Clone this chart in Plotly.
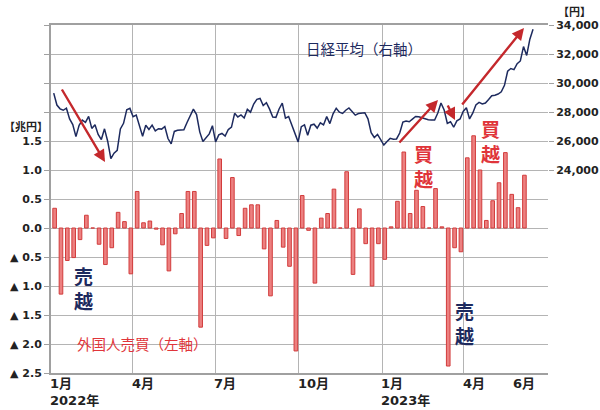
import plotly.graph_objects as go
import pandas as pd

# weekly net buying by foreign investors, trillion yen (left axis)
FOREIGN_START = "2022-01-05"
FOREIGN_NET = [
    0.34, -1.14, -0.56, -0.51, -0.20, 0.22, 0.00, -0.28, -0.63, -0.34,
    0.27, 0.11, -0.79, 0.63, 0.09, 0.12, -0.02, -0.29, -0.74, -0.10,
    0.25, 0.63, 0.63, -1.71, -0.30, -0.17, 1.19, -0.18, 0.87, -0.13,
    0.34, 0.40, 0.40, -0.36, -1.17, 0.13, -0.33, -0.66, -2.12, 0.56,
    -0.04, -0.95, 0.17, 0.25, 0.67, 0.00, 0.97, -0.80, 0.33, -0.27,
    -1.00, -0.27, -0.54, 0.02, 0.46, 1.31, 0.25, 0.65, 0.37, 0.00,
    0.68, 0.02, -2.38, -0.34, -0.41, 1.21, 1.59, 1.00, 0.13, 0.47,
    0.78, 1.30, 0.58, 0.35, 0.91,
]

NIKKEI_START = "2022-01-04"
NIKKEI = [
    29300, 28480, 28220, 28120, 28260, 27520, 27130, 26300, 27080, 27440,
    27280, 27700, 26870, 27120, 26450, 26100, 26840, 25985, 24790, 25160,
    25350, 26830, 27220, 28150, 28250, 27670, 27790, 26990, 26330, 27090,
    26800, 27100, 26700, 26850, 26820, 27000, 26170, 25800, 26660, 26740,
    26750, 26780, 27280, 27760, 28200, 27820, 26630, 25960, 26250, 26490,
    27050, 25940, 26420, 26520, 26340, 26790, 26960, 27910, 27660, 27800,
    27590, 28180, 27990, 28550, 28870, 28930, 28450, 28640, 28200, 27650,
    27630, 28210, 28610, 27570, 27690, 27150, 26570, 25940, 26990, 27120,
    26400, 27090, 27160, 26890, 27250, 27110, 27680, 27200, 27870, 28260,
    27990, 27900, 28120, 28280, 28030, 27780, 27890, 27900, 27950, 27530,
    26570, 26240, 26450, 26090, 25720, 25970, 26180, 26120, 26140, 26550,
    27300, 27380, 27330, 27510, 27690, 27670, 27600, 27510, 27470, 27450,
    27450, 27930, 28620, 28140, 27220, 27330, 26950, 27390, 27520, 28040,
    28290, 27520, 27920, 28490, 28660, 28560, 28620, 28860, 29120, 29160,
    29240, 29390, 29840, 30810, 31000, 30920, 31330, 31520, 32510, 31900,
    33020, 33710,
]

GRID_MONTHS = ["2022-01-01", "2022-04-01", "2022-07-01", "2022-10-01", "2023-01-01", "2023-04-01"]
MONTH_LABELS = [
    ("2022-01-01", "1月<br>2022年"),
    ("2022-04-01", "4月"),
    ("2022-07-01", "7月"),
    ("2022-10-01", "10月"),
    ("2023-01-01", "1月<br>2023年"),
    ("2023-04-01", "4月"),
    ("2023-05-26", "6月"),
]

LEFT_TICKS = [-2.5, -2.0, -1.5, -1.0, -0.5, 0.0, 0.5, 1.0, 1.5, 2.0, 2.5, 3.0, 3.5]
LEFT_TEXT = ["▲ 2.5", "▲ 2.0", "▲ 1.5", "▲ 1.0", "▲ 0.5", "0.0", "0.5", "1.0", "1.5", "", "", "", ""]
RIGHT_TICKS = [24000, 26000, 28000, 30000, 32000, 34000]

W, H = 600, 410
L, R, T, B = 51, 52, 25, 37
NAVY = "#1d2a5e"
RED = "#e0353a"
ARROW = "#c4282c"
JP = "Noto Sans CJK JP"
TICKFONT = dict(family="DejaVu Sans", size=11, weight="bold", color="#222222")


def px(x, y):
    """pixel position in the 600x410 canvas -> paper coords"""
    return (x - L) / (W - L - R), (H - B - y) / (H - T - B)


def label(x, y, text, **font):
    cx, cy = px(x, y)
    fig.add_annotation(
        x=cx, y=cy, xref="paper", yref="paper", text=text, showarrow=False,
        xanchor="center", yanchor="middle", font=dict(family=JP, **font),
    )


bar_dates = pd.date_range(FOREIGN_START, periods=len(FOREIGN_NET), freq="7D")
line_dates = pd.date_range(NIKKEI_START, periods=len(NIKKEI), freq="84h")

fig = go.Figure()
fig.add_trace(
    go.Bar(
        x=bar_dates,
        y=FOREIGN_NET,
        width=4 * 86400000,
        marker=dict(color="#ec8080", line=dict(color="#d23c3c", width=1)),
        yaxis="y",
        name="外国人売買",
    )
)
fig.add_trace(
    go.Scatter(
        x=line_dates,
        y=NIKKEI,
        mode="lines",
        line=dict(color=NAVY, width=1.5),
        yaxis="y2",
        name="日経平均",
    )
)

fig.update_layout(
    width=W,
    height=H,
    margin=dict(l=L, r=R, t=T, b=B, autoexpand=False),
    paper_bgcolor="white",
    plot_bgcolor="white",
    showlegend=False,
    font=dict(family="DejaVu Sans, " + JP, color="#222222"),
    xaxis=dict(
        range=["2022-01-01", "2023-07-03"],
        tickvals=GRID_MONTHS,
        showticklabels=False,
        showgrid=True,
        gridcolor="#b4b4b4",
        gridwidth=1,
        showline=True,
        linecolor="#a0a0a0",
        linewidth=2,
        mirror=True,
        zeroline=False,
        automargin=False,
    ),
    yaxis=dict(
        range=[-2.5, 3.5],
        tickvals=LEFT_TICKS,
        ticktext=LEFT_TEXT,
        tickfont=TICKFONT,
        ticks="outside",
        ticklen=5,
        tickcolor="#a0a0a0",
        showgrid=True,
        gridcolor="#b4b4b4",
        gridwidth=1,
        zeroline=False,
        showline=True,
        linecolor="#a0a0a0",
        linewidth=2,
        automargin=False,
    ),
    yaxis2=dict(
        range=[10000, 34000],
        overlaying="y",
        side="right",
        tickvals=RIGHT_TICKS,
        tickformat=",d",
        tickfont=TICKFONT,
        ticks="outside",
        ticklen=5,
        tickcolor="#a0a0a0",
        showgrid=False,
        zeroline=False,
        automargin=False,
    ),
)

# month labels under the axis, left-aligned on each gridline
for d, text in MONTH_LABELS:
    fig.add_annotation(
        x=d, xref="x", y=px(0, 375)[1], yref="paper",
        text=text, showarrow=False, xanchor="left", yanchor="top",
        align="left", borderpad=0, xshift=-2,
        font=dict(family="DejaVu Sans, " + JP, size=13, weight="bold", color="#222222"),
    )

# unit labels
label(26, 126, "【兆円】", size=11, weight="bold", color="#222222")
label(574, 11, "【円】", size=11, weight="bold", color="#222222")

# series captions
label(364, 48, "日経平均（右軸）", size=14.5, color=NAVY)
label(142, 343, "外国人売買（左軸）", size=14.5, color=RED)

# 売越 / 買越 markers
label(83, 288, "売<br>越", size=19, weight="bold", color=NAVY)
label(423, 166, "買<br>越", size=19, weight="bold", color=RED)
label(490, 141, "買<br>越", size=19, weight="bold", color=RED)
label(464, 323, "売<br>越", size=19, weight="bold", color=NAVY)

# trend arrows (tail -> head in canvas pixels)
for (tx, ty), (hx, hy) in [
    ((61, 88), (105, 162)),
    ((398, 144), (438, 100)),
    ((447, 104), (455, 120)),
    ((461, 106), (524, 28)),
]:
    ax_, ay_ = px(hx, hy)
    fig.add_annotation(
        x=ax_, y=ay_, xref="paper", yref="paper", ax=tx - hx, ay=ty - hy,
        axref="pixel", ayref="pixel", text="", showarrow=True,
        arrowhead=2, arrowsize=1, arrowwidth=2.4, arrowcolor=ARROW, standoff=0,
    )

# the page's default body margin would shift the 600x410 figure
fig.write_html(
    "out.html",
    config={"displayModeBar": False},
    post_script="document.body.style.margin='0';",
)
